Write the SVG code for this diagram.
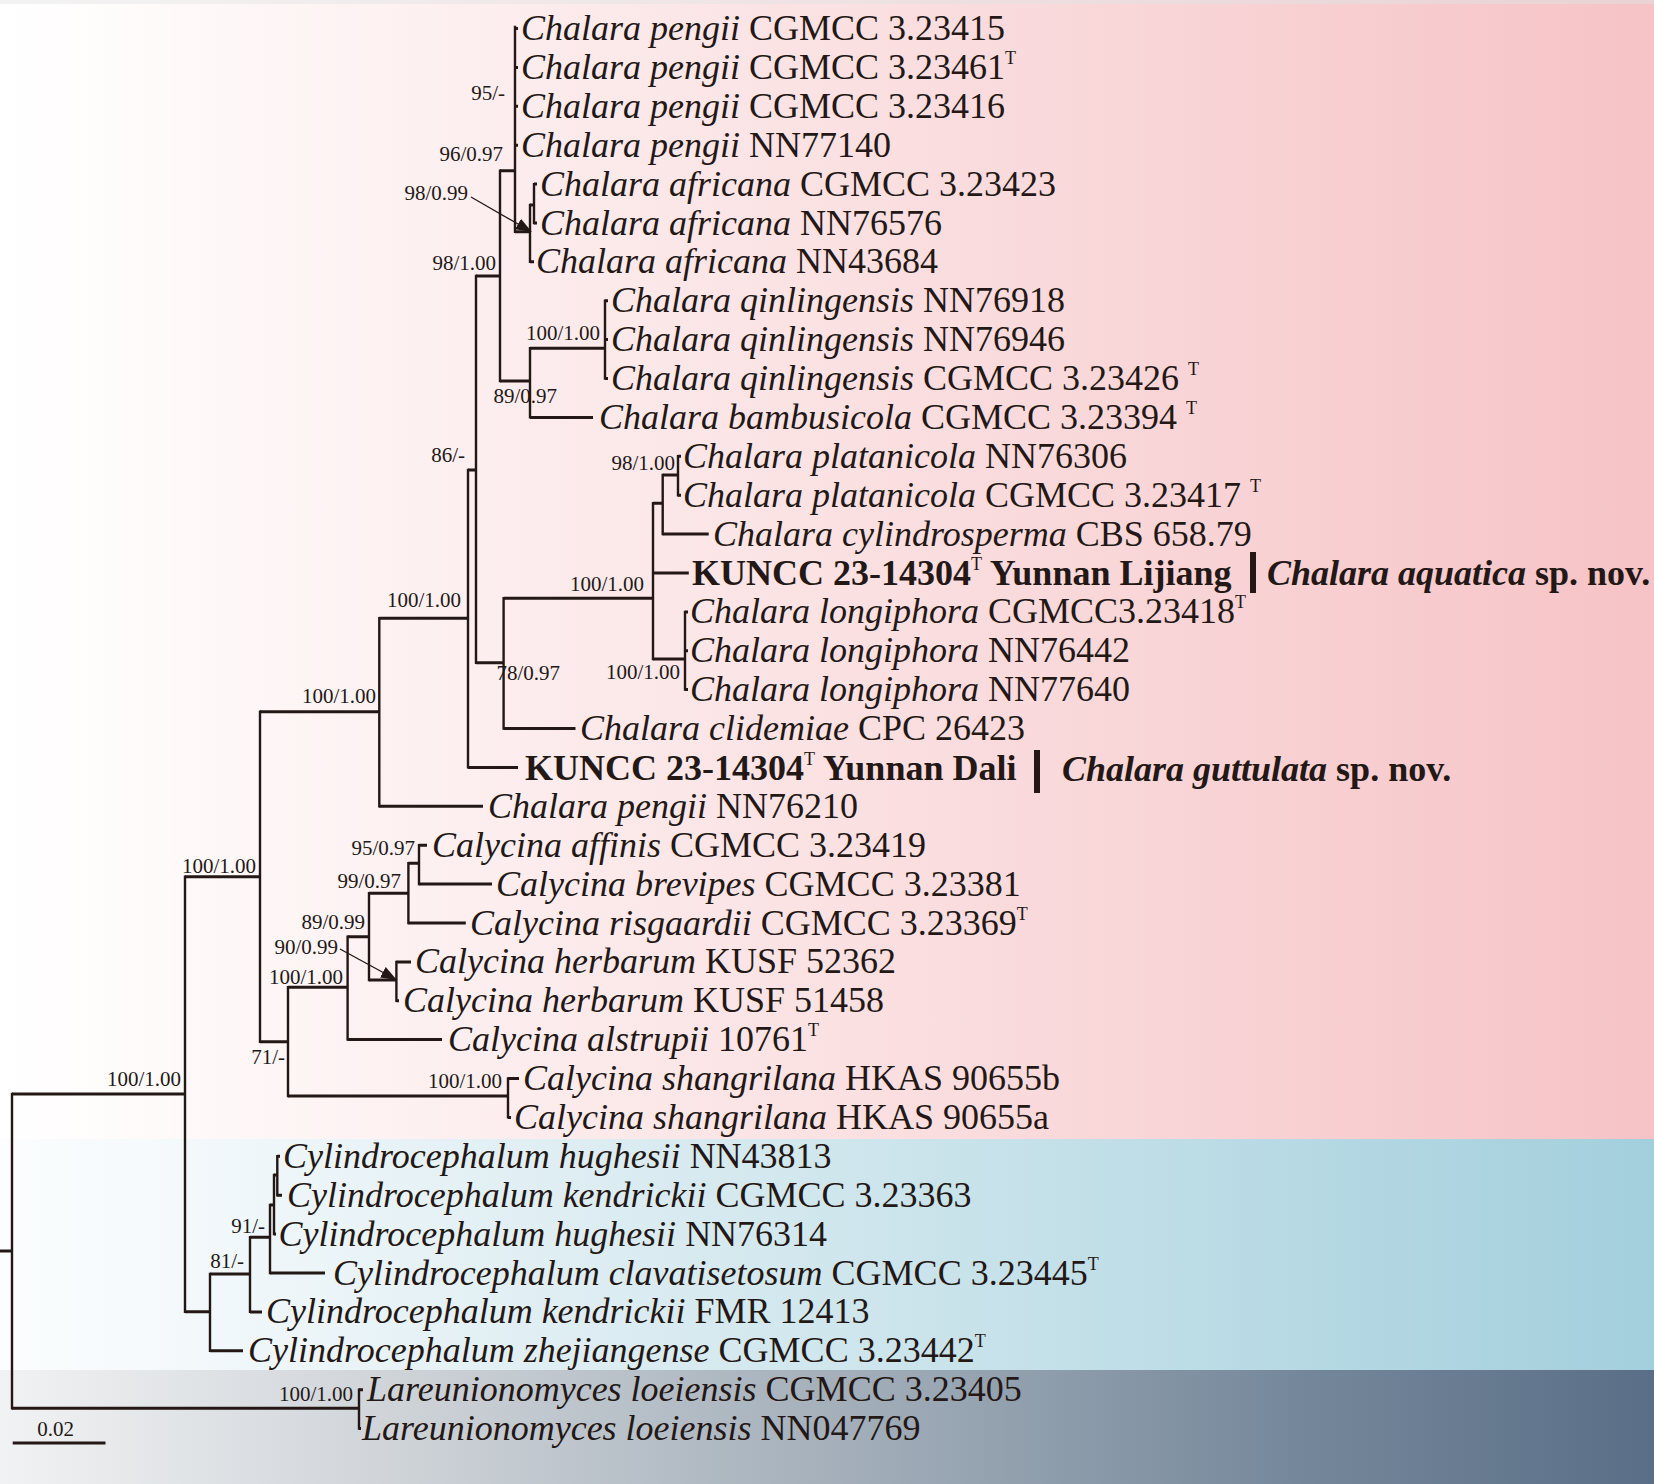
<svg xmlns="http://www.w3.org/2000/svg" width="1654" height="1484" viewBox="0 0 1654 1484">
<defs>
<linearGradient id="gPink" x1="0" y1="0" x2="1" y2="0">
<stop offset="0" stop-color="#ffffff"/><stop offset="0.06" stop-color="#fffcfc"/><stop offset="1" stop-color="#f6c3c6"/>
</linearGradient>
<linearGradient id="gCyan" x1="0" y1="0" x2="1" y2="0">
<stop offset="0" stop-color="#fbfdfe"/><stop offset="0.08" stop-color="#f6fafc"/><stop offset="1" stop-color="#a3cfdc"/>
</linearGradient>
<linearGradient id="gDark" x1="0" y1="0" x2="1" y2="0">
<stop offset="0" stop-color="#f1f2f3"/><stop offset="0.25" stop-color="#cdd2d7"/><stop offset="0.5" stop-color="#a5b0bb"/><stop offset="0.79" stop-color="#74879a"/><stop offset="1" stop-color="#5a6e87"/>
</linearGradient>
<linearGradient id="gTop" x1="0" y1="0" x2="1" y2="0">
<stop offset="0" stop-color="#f3f3f3"/><stop offset="1" stop-color="#e9d2d4"/>
</linearGradient>
<marker id="arr" markerUnits="userSpaceOnUse" markerWidth="16" markerHeight="12" refX="15" refY="6" orient="auto">
<path d="M0,0 L16,6 L0,12 z" fill="#231815"/>
</marker>
<style>
.tx{font-family:"Liberation Serif","Times New Roman",serif;font-size:36px;fill:#231815}
.it{font-style:italic}
.bd{font-weight:bold}
.sup{font-size:18px;font-style:normal;font-weight:normal}
.sv{font-family:"Liberation Serif","Times New Roman",serif;font-size:21px;fill:#231815;text-anchor:end}
.hz{fill:none;stroke:#231815;stroke-width:3}
.vt{fill:none;stroke:#231815;stroke-width:2.4;stroke-linecap:square}
.ar{fill:none;stroke:#231815;stroke-width:1.3}
</style>
</defs>
<g id="background">
<rect x="0" y="0" width="1654" height="1139" fill="url(#gPink)"/>
<rect x="0" y="0" width="1654" height="4" fill="url(#gTop)"/>
<rect x="0" y="1139" width="1654" height="231" fill="url(#gCyan)"/>
<rect x="0" y="1370" width="1654" height="114" fill="url(#gDark)"/>
</g>
<g id="connectors">
<path class="vt" d="M12,1094 V1408.3 M185,876.7 V1311.7 M260,711.7 V1041.7 M379.3,618.3 V806.3 M468,470 V767.4 M476,276 V662.7 M500,170.7 V381 M515,27 V231.7 M530,205 V261.8 M534,184.1 V223 M530,348.3 V417.4 M605,300.7 V378.5 M503.6,598.3 V728.5 M653,503.3 V659 M685,611.9 V689.6 M662.7,475 V534.1 M678,456.3 V495.2 M288,987.3 V1096 M508,1078.5 V1117.4 M347.6,936.7 V1039.6 M369,893.3 V980 M396.4,961.9 V1000.8 M408.4,863.3 V923 M419,845.2 V884.1 M210,1274 V1350.8 M250,1237.3 V1311.9 M270,1205 V1273 M274,1175 V1234.1 M277.3,1156.3 V1195.2 M359,1389.7 V1428.5"/>
<path class="hz" d="M0,1251 H12 M12,1094 H185 M12,1408.3 H359 M185,876.7 H260 M185,1311.7 H210 M260,711.7 H379.3 M260,1041.7 H288 M379.3,618.3 H468 M379.3,806.3 H483 M468,470 H476 M468,767.4 H518 M476,276 H500 M476,662.7 H503.6 M500,170.7 H515 M500,381 H530 M515,28.5 H518 M515,67.4 H518 M515,106.3 H518 M515,145.2 H518 M515,231.7 H530 M530,205 H534 M530,261.8 H534 M534,184.1 H537 M534,223 H537 M530,348.3 H605 M530,417.4 H593 M605,300.7 H608 M605,339.6 H608 M605,378.5 H608 M503.6,598.3 H653 M503.6,728.5 H575.5 M653,503.3 H662.7 M653,573 H688.8 M653,659 H685 M685,611.9 H688 M685,650.7 H688 M685,689.6 H688 M662.7,475 H678 M662.7,534.1 H708.7 M678,456.3 H681 M678,495.2 H681 M288,987.3 H347.6 M288,1096 H508 M508,1078.5 H519 M508,1117.4 H511 M347.6,936.7 H369 M347.6,1039.6 H442 M369,893.3 H408.4 M369,980 H396.4 M396.4,961.9 H411 M396.4,1000.8 H399 M408.4,863.3 H419 M408.4,923 H465.8 M419,845.2 H427 M419,884.1 H492 M210,1274 H250 M210,1350.8 H243 M250,1237.3 H270 M250,1311.9 H262 M270,1273 H325 M270,1205 H274 M274,1234.1 H276 M274,1175 H277.3 M277.3,1156.3 H280 M277.3,1195.2 H282 M359,1389.7 H363 M359,1428.5 H361"/>
<path class="ar" d="M471,197 L531,231.5" marker-end="url(#arr)"/>
<path class="ar" d="M340,949 L396,979.5" marker-end="url(#arr)"/>
</g>
<g id="support-values">
<text class="sv" x="505" y="100">95/-</text>
<text class="sv" x="503" y="161">96/0.97</text>
<text class="sv" x="468" y="200">98/0.99</text>
<text class="sv" x="496" y="270">98/1.00</text>
<text class="sv" x="600" y="340">100/1.00</text>
<text class="sv" x="557" y="403">89/0.97</text>
<text class="sv" x="465" y="462">86/-</text>
<text class="sv" x="675" y="470">98/1.00</text>
<text class="sv" x="644" y="591">100/1.00</text>
<text class="sv" x="461" y="607">100/1.00</text>
<text class="sv" x="560" y="680">78/0.97</text>
<text class="sv" x="680" y="679">100/1.00</text>
<text class="sv" x="376" y="703">100/1.00</text>
<text class="sv" x="256" y="873">100/1.00</text>
<text class="sv" x="415" y="855">95/0.97</text>
<text class="sv" x="401" y="888">99/0.97</text>
<text class="sv" x="365" y="929">89/0.99</text>
<text class="sv" x="338" y="954">90/0.99</text>
<text class="sv" x="343" y="984">100/1.00</text>
<text class="sv" x="285" y="1064">71/-</text>
<text class="sv" x="502" y="1088">100/1.00</text>
<text class="sv" x="181" y="1086">100/1.00</text>
<text class="sv" x="265" y="1233">91/-</text>
<text class="sv" x="244" y="1268">81/-</text>
<text class="sv" x="353" y="1401">100/1.00</text>
</g>
<g id="taxa">
<g id="t00"><text class="tx" x="521" y="40"><tspan class="it">Chalara pengii</tspan> CGMCC 3.23415</text></g>
<g id="t01"><text class="tx" x="521" y="79"><tspan class="it">Chalara pengii</tspan> CGMCC 3.23461<tspan class="sup" dy="-15">T</tspan></text></g>
<g id="t02"><text class="tx" x="521" y="118"><tspan class="it">Chalara pengii</tspan> CGMCC 3.23416</text></g>
<g id="t03"><text class="tx" x="521" y="157"><tspan class="it">Chalara pengii</tspan> NN77140</text></g>
<g id="t04"><text class="tx" x="540" y="196"><tspan class="it">Chalara africana</tspan> CGMCC 3.23423</text></g>
<g id="t05"><text class="tx" x="540" y="234.5"><tspan class="it">Chalara africana</tspan> NN76576</text></g>
<g id="t06"><text class="tx" x="536" y="273.3"><tspan class="it">Chalara africana</tspan> NN43684</text></g>
<g id="t07"><text class="tx" x="611" y="312.2"><tspan class="it">Chalara qinlingensis</tspan> NN76918</text></g>
<g id="t08"><text class="tx" x="611" y="351.1"><tspan class="it">Chalara qinlingensis</tspan> NN76946</text></g>
<g id="t09"><text class="tx" x="611" y="390"><tspan class="it">Chalara qinlingensis</tspan> CGMCC 3.23426 <tspan class="sup" dy="-15">T</tspan></text></g>
<g id="t10"><text class="tx" x="599" y="428.9"><tspan class="it">Chalara bambusicola</tspan> CGMCC 3.23394 <tspan class="sup" dy="-15">T</tspan></text></g>
<g id="t11"><text class="tx" x="683" y="467.8"><tspan class="it">Chalara platanicola</tspan> NN76306</text></g>
<g id="t12"><text class="tx" x="683" y="506.7"><tspan class="it">Chalara platanicola</tspan> CGMCC 3.23417 <tspan class="sup" dy="-15">T</tspan></text></g>
<g id="t13"><text class="tx" x="713" y="545.6"><tspan class="it">Chalara cylindrosperma</tspan> CBS 658.79</text></g>
<g id="t14"><text class="tx bd" x="692" y="584.5">KUNCC 23-14304<tspan class="sup" dy="-15">T</tspan><tspan dy="15"> Yunnan Lijiang</tspan></text>
<rect x="1250" y="552" width="6" height="41" fill="#231815"/>
<text class="tx bd" x="1267" y="584.5"><tspan class="it">Chalara aquatica</tspan> sp. nov.</text></g>
<g id="t15"><text class="tx" x="690" y="623.4"><tspan class="it">Chalara longiphora</tspan> CGMCC3.23418<tspan class="sup" dy="-15">T</tspan></text></g>
<g id="t16"><text class="tx" x="690" y="662.2"><tspan class="it">Chalara longiphora</tspan> NN76442</text></g>
<g id="t17"><text class="tx" x="690" y="701.1"><tspan class="it">Chalara longiphora</tspan> NN77640</text></g>
<g id="t18"><text class="tx" x="580" y="740"><tspan class="it">Chalara clidemiae</tspan> CPC 26423</text></g>
<g id="t19"><text class="tx bd" x="525" y="780">KUNCC 23-14304<tspan class="sup" dy="-15">T</tspan><tspan dy="15"> Yunnan Dali</tspan></text>
<rect x="1034" y="750" width="6" height="43" fill="#231815"/>
<text class="tx bd" x="1062" y="781"><tspan class="it">Chalara guttulata</tspan> sp. nov.</text></g>
<g id="t20"><text class="tx" x="488" y="817.8"><tspan class="it">Chalara pengii</tspan> NN76210</text></g>
<g id="t21"><text class="tx" x="432" y="856.7"><tspan class="it">Calycina affinis</tspan> CGMCC 3.23419</text></g>
<g id="t22"><text class="tx" x="496" y="895.6"><tspan class="it">Calycina brevipes</tspan> CGMCC 3.23381</text></g>
<g id="t23"><text class="tx" x="470" y="934.5"><tspan class="it">Calycina risgaardii</tspan> CGMCC 3.23369<tspan class="sup" dy="-15">T</tspan></text></g>
<g id="t24"><text class="tx" x="415" y="973.4"><tspan class="it">Calycina herbarum</tspan> KUSF 52362</text></g>
<g id="t25"><text class="tx" x="403" y="1012.3"><tspan class="it">Calycina herbarum</tspan> KUSF 51458</text></g>
<g id="t26"><text class="tx" x="448" y="1051.1"><tspan class="it">Calycina alstrupii</tspan> 10761<tspan class="sup" dy="-15">T</tspan></text></g>
<g id="t27"><text class="tx" x="523" y="1090"><tspan class="it">Calycina shangrilana</tspan> HKAS 90655b</text></g>
<g id="t28"><text class="tx" x="514" y="1128.9"><tspan class="it">Calycina shangrilana</tspan> HKAS 90655a</text></g>
<g id="t29"><text class="tx" x="283" y="1167.8"><tspan class="it">Cylindrocephalum hughesii</tspan> NN43813</text></g>
<g id="t30"><text class="tx" x="287" y="1206.7"><tspan class="it">Cylindrocephalum kendrickii</tspan> CGMCC 3.23363</text></g>
<g id="t31"><text class="tx" x="278.5" y="1245.6"><tspan class="it">Cylindrocephalum hughesii</tspan> NN76314</text></g>
<g id="t32"><text class="tx" x="333" y="1284.5"><tspan class="it">Cylindrocephalum clavatisetosum</tspan> CGMCC 3.23445<tspan class="sup" dy="-15">T</tspan></text></g>
<g id="t33"><text class="tx" x="266" y="1323.4"><tspan class="it">Cylindrocephalum kendrickii</tspan> FMR 12413</text></g>
<g id="t34"><text class="tx" x="248" y="1362.3"><tspan class="it">Cylindrocephalum zhejiangense</tspan> CGMCC 3.23442<tspan class="sup" dy="-15">T</tspan></text></g>
<g id="t35"><text class="tx" x="367" y="1401.2"><tspan class="it">Lareunionomyces loeiensis</tspan> CGMCC 3.23405</text></g>
<g id="t36"><text class="tx" x="362" y="1440"><tspan class="it">Lareunionomyces loeiensis</tspan> NN047769</text></g>
</g>
<g id="scale-bar">
<path class="hz" d="M12.7,1443 H105.5"/>
<text class="sv" x="74" y="1436">0.02</text>
</g>
</svg>
